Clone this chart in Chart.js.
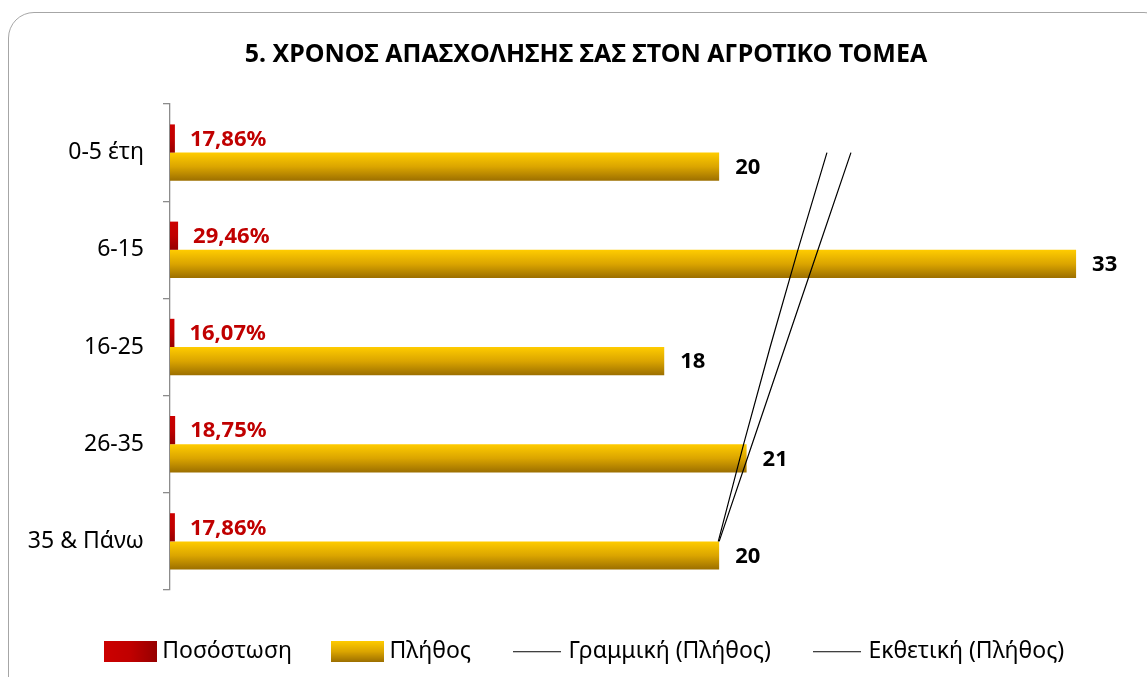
<!DOCTYPE html>
<html>
<head>
<meta charset="utf-8">
<script src="https://cdn.jsdelivr.net/npm/chart.js@4"></script>
<style>
  html, body { margin: 0; padding: 0; background: #fff; overflow: hidden; }
  #wrap { position: relative; width: 1147px; height: 677px; }
  #frame { position: absolute; left: 8px; top: 12px; width: 1160px; height: 690px;
           border: 1.5px solid #a6a6a6; border-radius: 26px; pointer-events: none; }
</style>
</head>
<body>
<div id="wrap">
  <canvas id="chart1"></canvas>
  <div id="frame"></div>
</div>
<script>
const chartTitle = '5. ΧΡΟΝΟΣ ΑΠΑΣΧΟΛΗΣΗΣ ΣΑΣ ΣΤΟΝ ΑΓΡΟΤΙΚΟ ΤΟΜΕΑ';
const categories = ['0-5 έτη', '6-15', '16-25', '26-35', '35 & Πάνω'];
const shares = [0.1786, 0.2946, 0.1607, 0.1875, 0.1786];   // Ποσόστωση
const counts = [20, 33, 18, 21, 20];                      // Πλήθος
const seriesNames = ['Ποσόστωση', 'Πλήθος', 'Γραμμική (Πλήθος)', 'Εκθετική (Πλήθος)'];

// trendlines over the category index, the way Excel fits them
function linearTrend(vals) {
  const n = vals.length;
  const xs = vals.map((v, i) => i + 1);
  const mx = xs.reduce((a, b) => a + b) / n;
  const my = vals.reduce((a, b) => a + b) / n;
  let sxy = 0, sxx = 0;
  xs.forEach((x, i) => { sxy += (x - mx) * (vals[i] - my); sxx += (x - mx) * (x - mx); });
  const b = sxy / sxx;
  return xs.map(x => my + b * (x - mx));
}
function expTrend(vals) {
  return linearTrend(vals.map(v => Math.log(v))).map(v => Math.exp(v));
}
const linTrend = linearTrend(counts);
const expoTrend = expTrend(counts);

const FONT = '"Noto Sans", "DejaVu Sans", sans-serif';
const CAT_PCT = 0.58;
const RED = ['#cc0000', '#c00000', '#960000'];
const GOLD = ['#ffcc00', '#dba500', '#9c6f00'];

function barGradient(c, stops, first) {
  if (c.type !== 'data' || !c.chart.chartArea) return stops[1];
  const y = c.chart.scales.y;
  const center = y.getPixelForValue(c.dataIndex);
  const t = (y.height / categories.length) * CAT_PCT / 2;
  const top = first ? center - t : center;
  const g = c.chart.ctx.createLinearGradient(0, top, 0, top + t);
  g.addColorStop(0, stops[0]);
  g.addColorStop(0.5, stops[1]);
  g.addColorStop(1, stops[2]);
  return g;
}

// little swatches for the legend
function swatch(stops, horizontal) {
  const cv = document.createElement('canvas');
  cv.width = 53; cv.height = 21;
  const c = cv.getContext('2d');
  const g = horizontal ? c.createLinearGradient(0, 0, 53, 0) : c.createLinearGradient(0, 0, 0, 21);
  g.addColorStop(0, stops[0]);
  g.addColorStop(0.5, stops[1]);
  g.addColorStop(1, stops[2]);
  c.fillStyle = g;
  c.fillRect(0, 0, 53, 21);
  return cv;
}
function lineSwatch() {
  const cv = document.createElement('canvas');
  cv.width = 48; cv.height = 3;
  const c = cv.getContext('2d');
  c.fillStyle = '#404040';
  c.fillRect(0, 1, 48, 1.3);
  return cv;
}
const redBox = swatch(RED, true);
const goldBox = swatch(GOLD, false);
const trendLine = lineSwatch();

const labelPlugin = {
  id: 'barLabels',
  afterLayout(chart) {
    // legend is centred on the frame, a bit right of the canvas centre
    if (chart.legend) { chart.legend.left += 22; chart.legend.right += 22; }
  },
  afterDatasetsDraw(chart) {
    const ctx = chart.ctx;
    ctx.save();
    ctx.textBaseline = 'middle';
    ctx.textAlign = 'left';
    ctx.font = 'bold 22px ' + FONT;
    chart.getDatasetMeta(0).data.forEach((bar, i) => {
      ctx.fillStyle = '#c00000';
      ctx.fillText((shares[i] * 100).toFixed(2).replace('.', ',') + '%', bar.x + 15, bar.y + 1);
    });
    chart.getDatasetMeta(1).data.forEach((bar, i) => {
      ctx.fillStyle = '#000';
      ctx.fillText(String(counts[i]), bar.x + 16, bar.y + 1);
    });
    ctx.restore();
  },
  afterDraw(chart) {
    // title centred on the outer frame rather than the canvas
    const ctx = chart.ctx;
    ctx.save();
    ctx.font = 'bold 25px ' + FONT;
    ctx.fillStyle = '#000';
    ctx.textAlign = 'center';
    ctx.textBaseline = 'middle';
    ctx.fillText(chartTitle, 586, 55);
    ctx.restore();
  }
};

const ctx1 = document.getElementById('chart1').getContext('2d');
const chart1 = new Chart(ctx1, {
  type: 'bar',
  data: {
    labels: categories,
    datasets: [{
      label: seriesNames[0],
      data: shares,
      backgroundColor: c => barGradient(c, RED, true),
      categoryPercentage: CAT_PCT,
      barPercentage: 1,
      order: 1
    }, {
      label: seriesNames[1],
      data: counts,
      backgroundColor: c => barGradient(c, GOLD, false),
      categoryPercentage: CAT_PCT,
      barPercentage: 1,
      order: 1
    }, {
      type: 'line',
      label: seriesNames[2],
      data: linTrend,
      indexAxis: 'y',
      borderColor: '#000',
      borderWidth: 1.2,
      pointRadius: 0,
      fill: false,
      order: 0
    }, {
      type: 'line',
      label: seriesNames[3],
      data: expoTrend,
      indexAxis: 'y',
      borderColor: '#000',
      borderWidth: 1.2,
      pointRadius: 0,
      fill: false,
      order: 0
    }]
  },
  options: {
    indexAxis: 'y',
    responsive: true,
    maintainAspectRatio: false,
    animation: false,
    layout: { padding: { left: 0, right: 16, top: 104, bottom: 4 } },
    scales: {
      x: {
        display: true, min: 0, max: 35,
        grid: { display: false }, border: { display: false }, ticks: { display: false },
        afterFit(axis) { axis.height = 4; }
      },
      y: {
        grid: { offset: true, drawOnChartArea: false, drawTicks: true, tickLength: 7, color: '#8c8c8c', lineWidth: 1.3 },
        border: { display: true, color: '#8c8c8c', width: 1.3 },
        ticks: { color: '#000', font: { family: FONT, size: 23 }, padding: 19 },
        afterFit(axis) { axis.width = 170; }
      }
    },
    plugins: {
      title: { display: false },
      legend: {
        position: 'bottom',
        labels: {
          color: '#000',
          font: { family: FONT, size: 23 },
          usePointStyle: true,
          pointStyleWidth: 40,
          boxHeight: 21,
          padding: 46,
          generateLabels() {
            const styles = [redBox, goldBox, trendLine, trendLine];
            return seriesNames.map((name, i) => ({
              text: name,
              datasetIndex: i,
              fillStyle: '#595959',
              strokeStyle: '#595959',
              lineWidth: 0,
              pointStyle: styles[i],
              fontColor: '#000',
              hidden: false
            }));
          }
        }
      },
      tooltip: { enabled: false }
    }
  },
  plugins: [labelPlugin]
});
</script>
</body>
</html>
